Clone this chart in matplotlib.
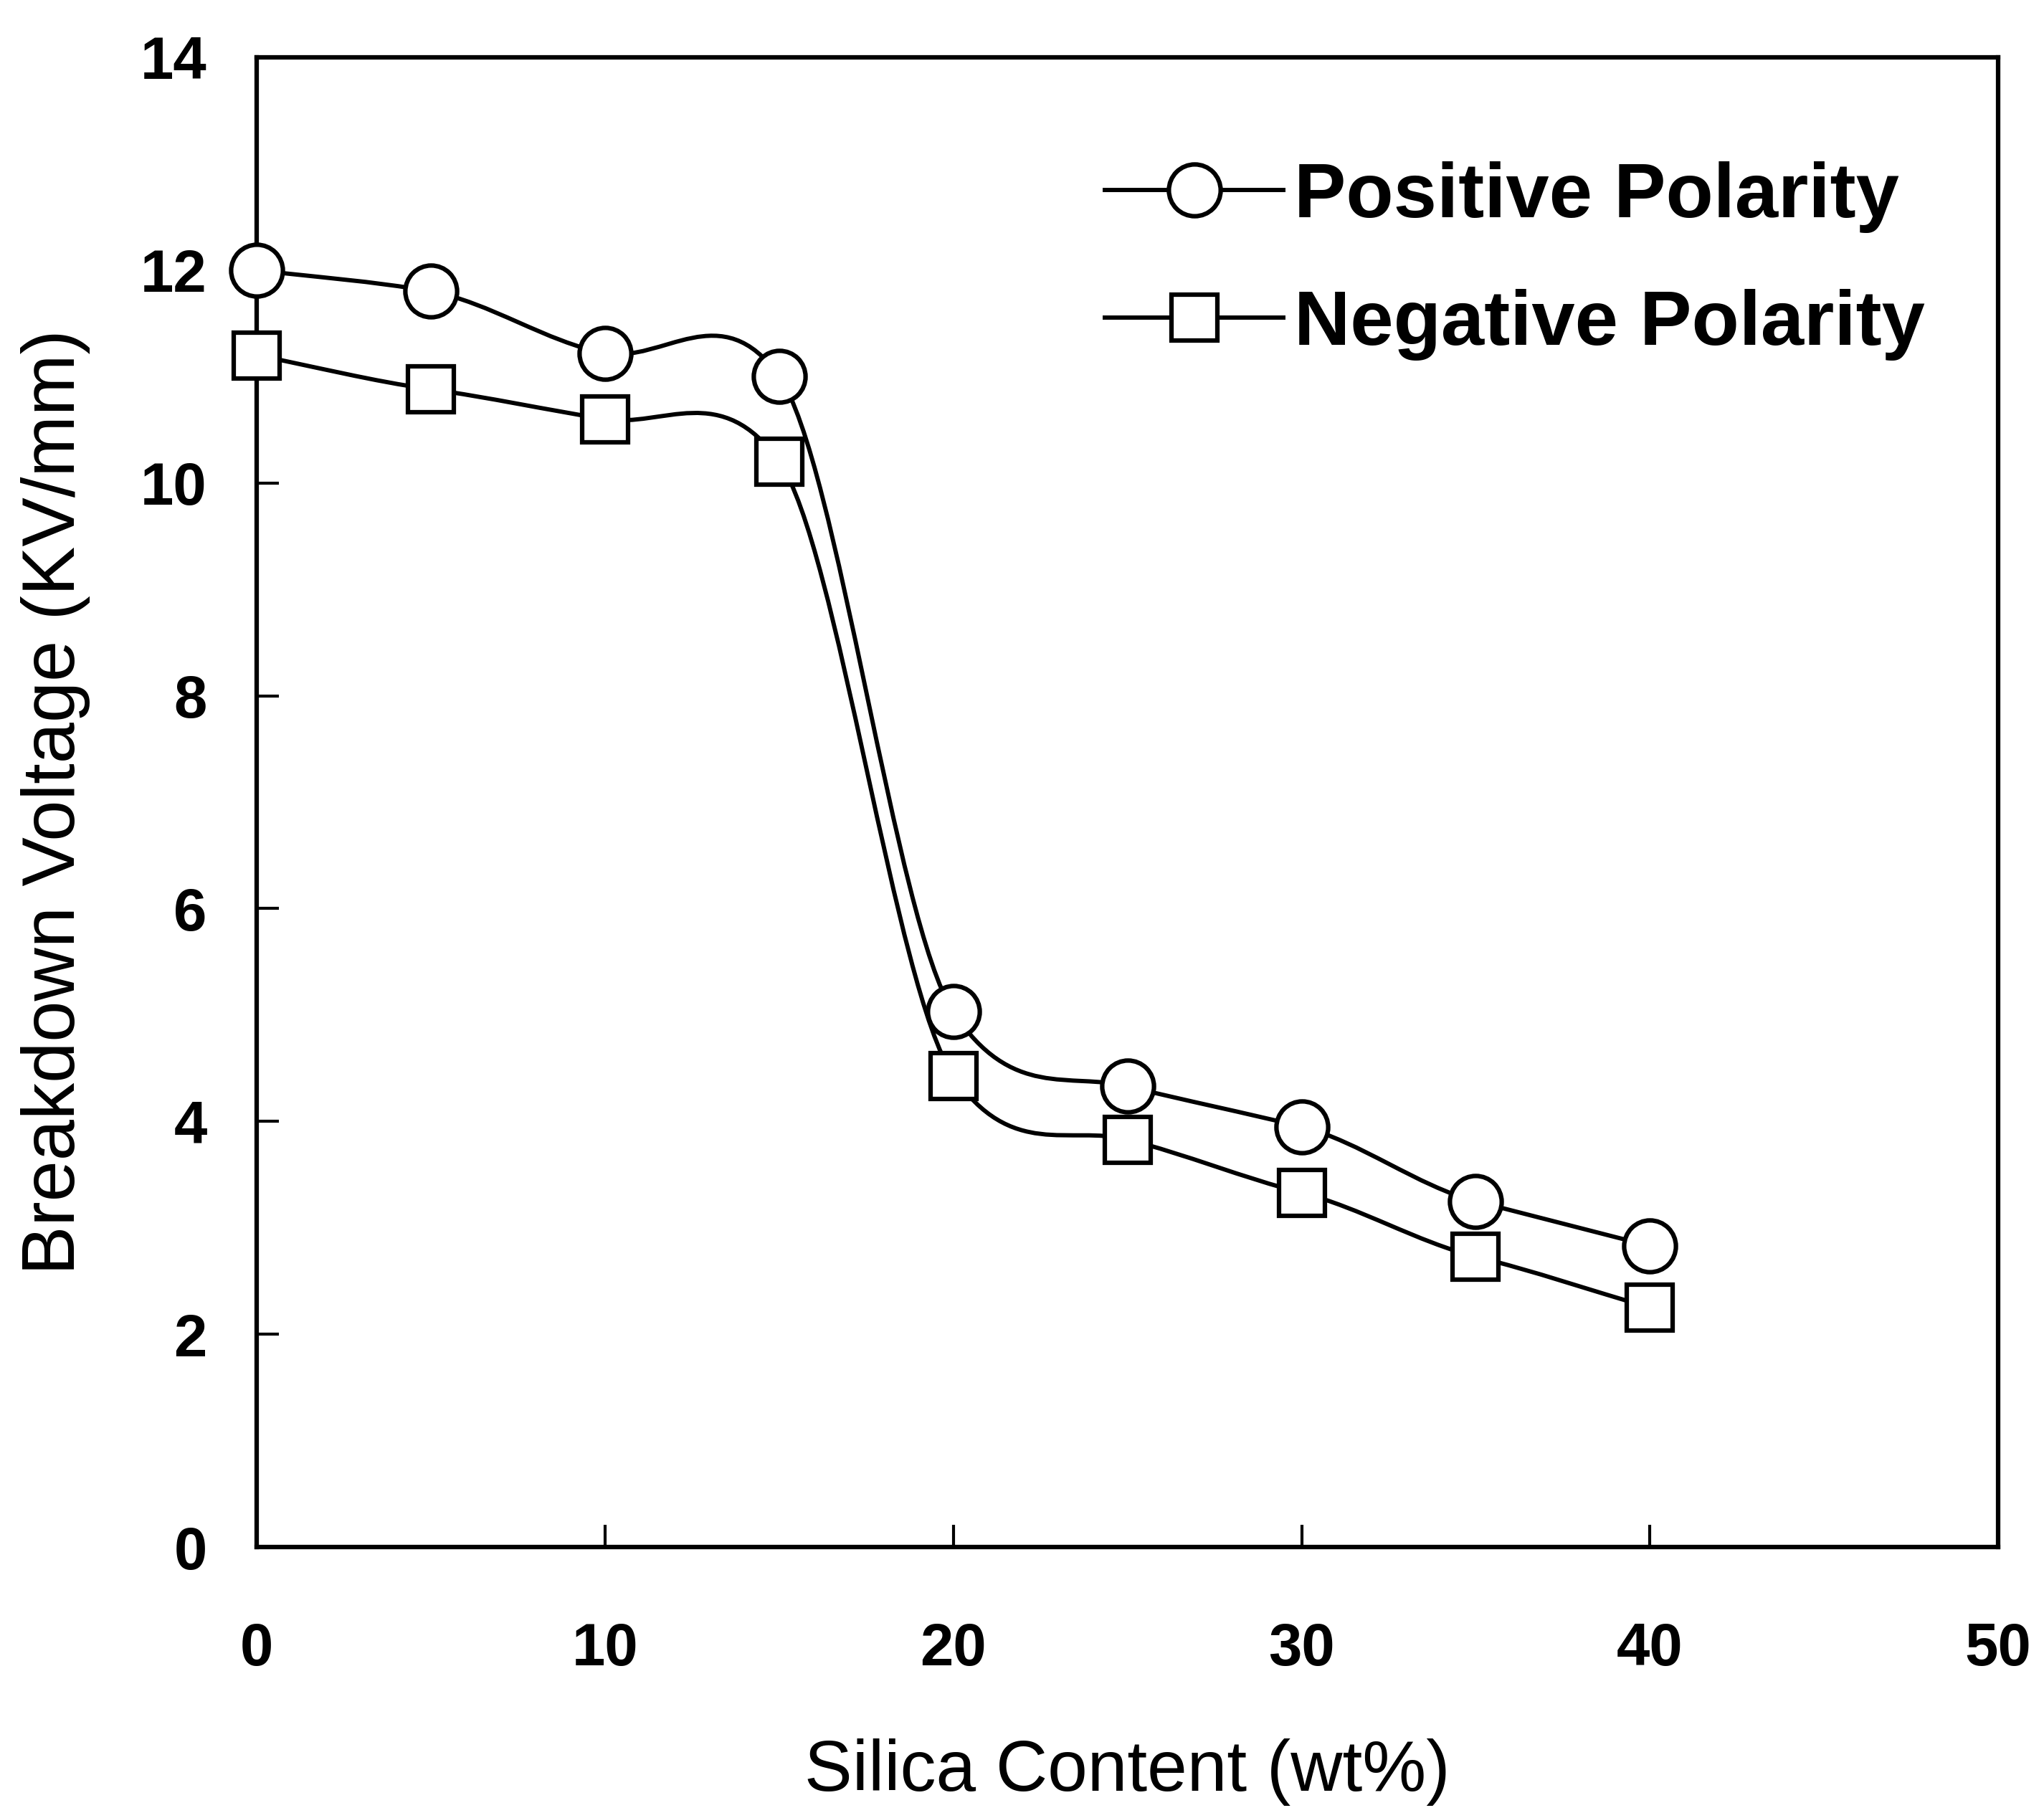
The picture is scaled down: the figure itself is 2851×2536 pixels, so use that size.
import numpy as np
import matplotlib
matplotlib.use("Agg")
import matplotlib.pyplot as plt
from matplotlib.path import Path
from matplotlib.patches import PathPatch
from matplotlib.lines import Line2D
from matplotlib import font_manager

# ---- data ----
silica = [0, 5, 10, 15, 20, 25, 30, 35, 40]
positive = [12.0, 11.8, 11.22, 11.0, 5.03, 4.33, 3.95, 3.25, 2.83]
negative = [11.2, 10.88, 10.6, 10.2, 4.43, 3.83, 3.33, 2.73, 2.25]
series_labels = ["Positive Polarity", "Negative Polarity"]
x_ticks = [0, 10, 20, 30, 40, 50]
y_ticks = [0, 2, 4, 6, 8, 10, 12, 14]
x_label = "Silica Content (wt%)"
y_label = "Breakdown Voltage (KV/mm)"

avail = {f.name for f in font_manager.fontManager.ttflist}
family = "Liberation Sans"
for cand in ["Liberation Sans Narrow", "Arial Narrow", "Liberation Sans"]:
    if cand in avail:
        family = cand
        break
plt.rcParams["font.family"] = [family, "DejaVu Sans"]


def spline_path(x, y, c=0.75):
    """Cardinal-spline smooth connection through the points as Bezier segments."""
    x = np.asarray(x, float)
    y = np.asarray(y, float)
    n = len(x)
    m = np.zeros(n)
    m[0] = (y[1] - y[0]) / (x[1] - x[0])
    m[-1] = (y[-1] - y[-2]) / (x[-1] - x[-2])
    for i in range(1, n - 1):
        m[i] = c * (y[i + 1] - y[i - 1]) / (x[i + 1] - x[i - 1])
    verts = [(x[0], y[0])]
    codes = [Path.MOVETO]
    for i in range(n - 1):
        d = (x[i + 1] - x[i]) / 3
        verts += [(x[i] + d, y[i] + m[i] * d),
                  (x[i + 1] - d, y[i + 1] - m[i + 1] * d),
                  (x[i + 1], y[i + 1])]
        codes += [Path.CURVE4] * 3
    return Path(verts, codes)


fig = plt.figure(figsize=(28.51, 25.36), dpi=100)
ax = fig.add_axes([0.1256, 0.149, 0.8520, 0.8195])

lw = 4.3
mew = 4.5
for ys, mk, ms in [(positive, "o", 52), (negative, "s", 46)]:
    ax.add_patch(PathPatch(spline_path(silica, ys), fill=False, lw=lw,
                           edgecolor="black", zorder=2, clip_on=False))
    ax.plot(silica, ys, linestyle="none", marker=mk, markersize=ms,
            markerfacecolor="white", markeredgecolor="black",
            markeredgewidth=mew, zorder=3, clip_on=False)

ax.set_xlim(0, 50)
ax.set_ylim(0, 14)
ax.set_xticks(x_ticks)
ax.set_yticks(y_ticks)
ax.tick_params(direction="in", length=22, width=3, top=False, right=False)
ax.tick_params(axis="x", pad=75)
ax.tick_params(axis="y", pad=50)
for lab in ax.get_xticklabels() + ax.get_yticklabels():
    lab.set_fontsize(60)
    lab.set_fontweight("bold")
for s in ax.spines.values():
    s.set_linewidth(4.5)

ax.set_xlabel(x_label, fontsize=72, labelpad=61)
ax.set_ylabel(y_label, fontsize=74, labelpad=50)

handles = [
    Line2D([], [], color="black", lw=lw, marker="o", markersize=52,
           markerfacecolor="white", markeredgewidth=mew),
    Line2D([], [], color="black", lw=lw, marker="s", markersize=46,
           markerfacecolor="white", markeredgewidth=mew),
]
leg = ax.legend(handles, series_labels, loc="upper left",
                bbox_to_anchor=(0.487, 0.930), frameon=False,
                borderpad=0, borderaxespad=0,
                prop={"size": 78, "weight": "bold", "family": [family, "DejaVu Sans"]},
                handlelength=2.3, handletextpad=0.14, labelspacing=0.72)

fig.savefig("out.png", dpi=100)
